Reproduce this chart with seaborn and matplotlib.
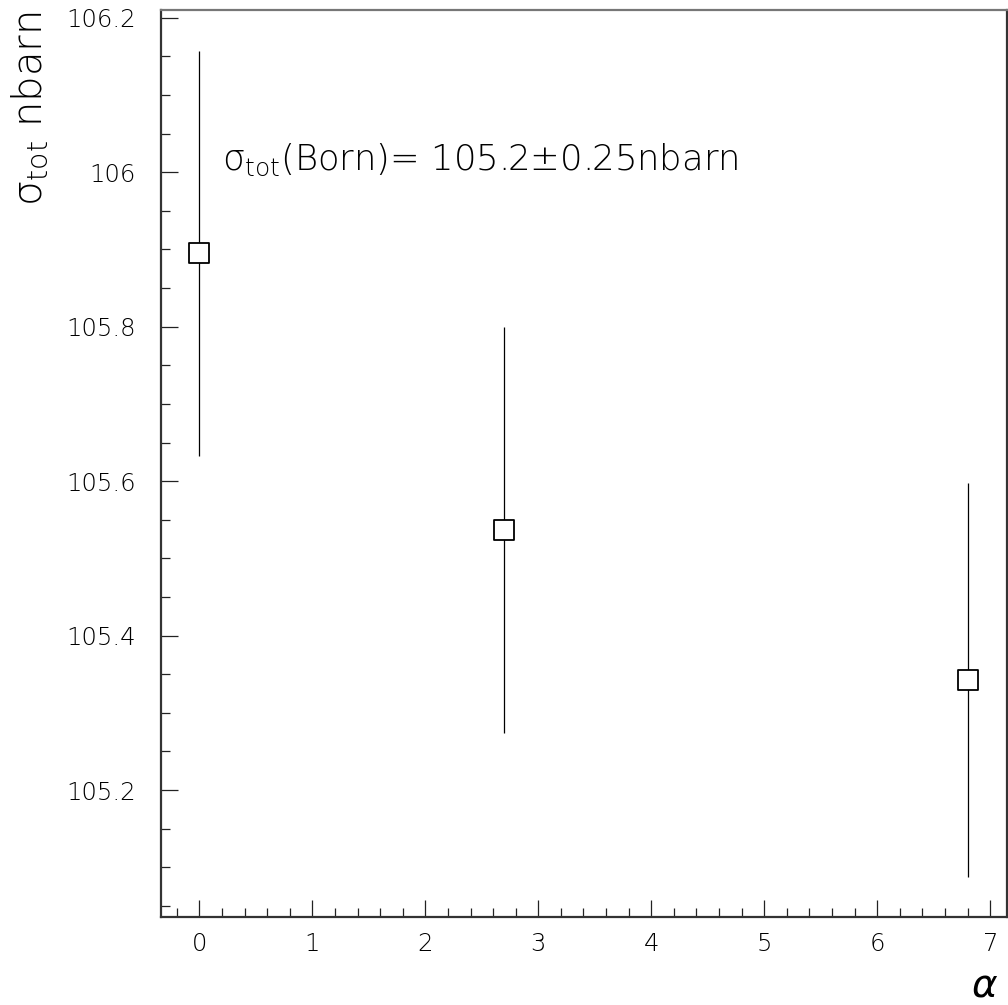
import numpy as np
import pandas as pd
import seaborn as sns
import matplotlib
matplotlib.use("Agg")
import matplotlib.pyplot as plt
from matplotlib.ticker import MultipleLocator

# Total cross section versus the alpha parameter
alpha_vals = [0.0, 2.7, 6.8]
sigma_vals = [105.895, 105.537, 105.343]
sigma_errs = [0.262, 0.263, 0.255]

sns.set_theme(style="white")
plt.rcParams["font.family"] = ["DejaVu Sans"]
plt.rcParams["font.weight"] = "light"
plt.rcParams["mathtext.fontset"] = "custom"
plt.rcParams["mathtext.rm"] = "DejaVu Sans:light"
plt.rcParams["mathtext.it"] = "DejaVu Sans:italic:light"
plt.rcParams["mathtext.bf"] = "DejaVu Sans:bold"

df = pd.DataFrame({"alpha": alpha_vals, "sigma": sigma_vals, "err": sigma_errs})

fig = plt.figure(figsize=(10.08, 10.05), dpi=100)
ax = fig.add_axes([0.1594, 0.0879, 0.8396, 0.9021])

ax.errorbar(df["alpha"], df["sigma"], yerr=df["err"], fmt="none",
            ecolor="black", elinewidth=0.9, capsize=0, zorder=2)
sns.scatterplot(data=df, x="alpha", y="sigma", marker="s", s=190,
                facecolor="white", edgecolor="black", linewidth=1.3,
                ax=ax, zorder=3, legend=False)

ax.set_xlim(-0.342, 7.148)
ax.set_ylim(105.036, 106.21)

ax.xaxis.set_major_locator(MultipleLocator(1))
ax.xaxis.set_minor_locator(MultipleLocator(0.2))
ax.yaxis.set_major_locator(MultipleLocator(0.2))
ax.yaxis.set_minor_locator(MultipleLocator(0.05))
ax.yaxis.set_major_formatter(plt.FuncFormatter(lambda v, p: f"{v:g}"))

ax.tick_params(which="both", direction="in", bottom=True, left=True,
               top=False, right=False, color="#222222", width=0.9,
               labelcolor="black")
ax.tick_params(which="major", length=12.5)
ax.tick_params(which="minor", length=6.5)
ax.tick_params(axis="y", which="major", pad=18, labelsize=17.5)
ax.tick_params(axis="x", which="major", pad=11, labelsize=17.5)
for lbl in ax.get_xticklabels() + ax.get_yticklabels():
    lbl.set_fontweight("light")

for side in ["left", "bottom", "right"]:
    ax.spines[side].set_color("#333333")
    ax.spines[side].set_linewidth(1.6)
ax.spines["top"].set_color("#777777")
ax.spines["top"].set_linewidth(1.6)

ax.set_xlabel("")
ax.set_ylabel("")

ax.text(0.0724, 0.8235, "σ$_{\\rm tot}$(Born)= 105.2±0.25nbarn",
        transform=ax.transAxes, fontsize=25.5, ha="left", va="baseline",
        fontweight="light", color="black")

fig.text(30 / 1008, 1 - 11 / 1005, "σ$_{\\rm tot}$ nbarn", rotation=90,
         ha="center", va="top", fontsize=29, fontweight="light", color="black")
fig.text(985 / 1008, 1 - 985 / 1005, r"$\alpha$", ha="center", va="center",
         fontsize=28, color="black")

fig.savefig("out.png", dpi=100, facecolor="white")
